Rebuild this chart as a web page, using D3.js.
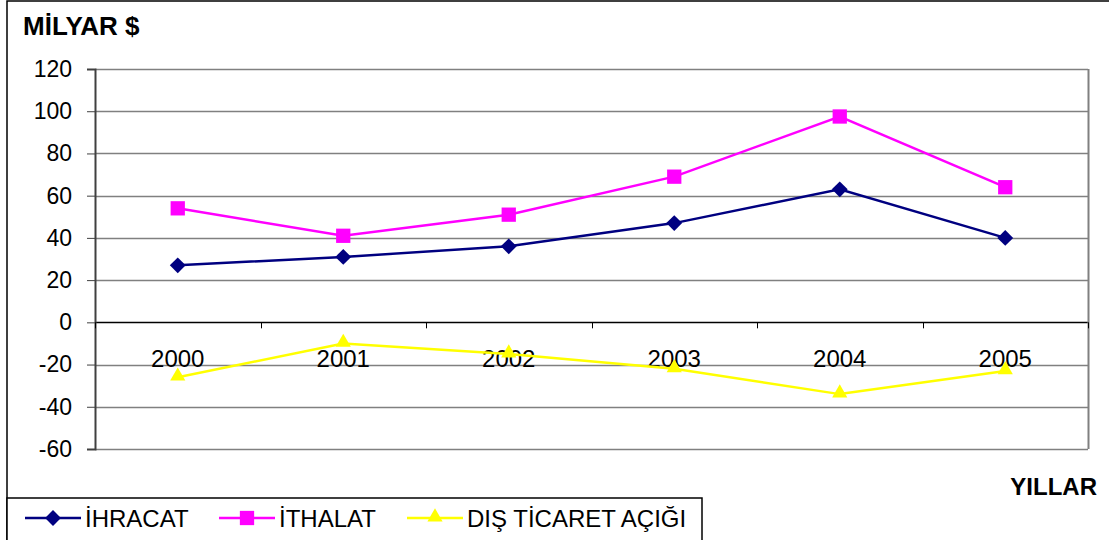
<!DOCTYPE html>
<html>
<head>
<meta charset="utf-8">
<script src="https://d3js.org/d3.v7.min.js"></script>
<style>
  body { margin: 0; background: #fff; }
  svg text { font-family: "Liberation Sans", Arial, sans-serif; }
</style>
</head>
<body>
<svg id="chart" width="1109" height="540"></svg>
<script>
// data
var years = ["2000", "2001", "2002", "2003", "2004", "2005"];
var ihracat = [27, 31, 36, 47, 63, 40];
var ithalat = [54, 41, 51, 69, 97.5, 64];
var acik = [-26, -10, -15, -22, -34, -23];
var yTicks = [120, 100, 80, 60, 40, 20, 0, -20, -40, -60];

(function() {
var series = [
  { name: "İHRACAT", values: ihracat, color: "#000080", shape: "diamond" },
  { name: "İTHALAT", values: ithalat, color: "#ff00ff", shape: "square" },
  { name: "DIŞ TİCARET AÇIĞI", values: acik, color: "#ffff00", shape: "triangle" }
];

var svg = d3.select("#chart");

// outer frame
svg.append("rect").attr("x", 7).attr("y", 1).attr("width", 1110).attr("height", 560)
  .attr("fill", "none").attr("stroke", "#000").attr("stroke-width", 1.5);

var pl = 95, pr = 1088, pt = 69, pb = 449;

var x = d3.scaleBand().domain(years).range([pl, pr]);
var y = d3.scaleLinear().domain([-60, 120]).range([pb, pt]);

// gridlines
svg.append("g").selectAll("line").data(yTicks).enter().append("line")
  .attr("x1", pl).attr("x2", pr)
  .attr("y1", function(d){ return Math.round(y(d)) + 0.5; })
  .attr("y2", function(d){ return Math.round(y(d)) + 0.5; })
  .attr("stroke", function(d){ return d === 0 ? "#000" : "#808080"; })
  .attr("stroke-width", 1.5);

// right border of plot area
svg.append("line").attr("x1", pr + 0.5).attr("x2", pr + 0.5).attr("y1", pt).attr("y2", pb)
  .attr("stroke", "#808080").attr("stroke-width", 2);

// y axis
var yAxis = d3.axisLeft(y).tickValues(yTicks).tickSize(8).tickPadding(15)
  .tickFormat(function(d){ return String(d); });
var gy = svg.append("g").attr("transform", "translate(" + pl + ",0)").call(yAxis);
gy.select(".domain").attr("stroke", "#404040").attr("stroke-width", 2);
gy.selectAll(".tick line").attr("stroke", "#404040");
gy.selectAll("text").style("font-size", "23px").attr("fill", "#000")
  .style("font-family", "'Liberation Sans', Arial, sans-serif");

// x axis at zero
var boundaries = years.map(function(d){ return x(d); }).concat([pr]);
svg.append("g").selectAll("line").data(boundaries).enter().append("line")
  .attr("x1", function(d){ return Math.round(d) + 0.5; })
  .attr("x2", function(d){ return Math.round(d) + 0.5; })
  .attr("y1", y(0)).attr("y2", y(0) + 6)
  .attr("stroke", "#000").attr("stroke-width", 1);

svg.append("g").selectAll("text").data(years).enter().append("text")
  .attr("x", function(d){ return x(d) + x.bandwidth() / 2; })
  .attr("y", 367)
  .attr("text-anchor", "middle")
  .style("font-size", "24px")
  .text(function(d){ return d; });

// axis titles
svg.append("text").attr("x", 23).attr("y", 35).style("font-size", "26px")
  .style("font-weight", "bold").text("MİLYAR $");
svg.append("text").attr("x", 1097).attr("y", 495).attr("text-anchor", "end").style("font-size", "24px")
  .style("font-weight", "bold").text("YILLAR");

function symbolFor(shape) {
  var t = shape === "diamond" ? d3.symbolDiamond2 : shape === "square" ? d3.symbolSquare2 : d3.symbolTriangle2;
  var size = shape === "diamond" ? 160 : shape === "square" ? 260 : 165;
  return d3.symbol().type(t).size(size);
}

var line = d3.line()
  .x(function(d, i){ return x(years[i]) + x.bandwidth() / 2; })
  .y(function(d){ return y(d); });

series.forEach(function(s) {
  var g = svg.append("g");
  g.append("path").datum(s.values).attr("d", line)
    .attr("fill", "none").attr("stroke", s.color).attr("stroke-width", 2.5);
  g.selectAll("path.m").data(s.values).enter().append("path").attr("class", "m")
    .attr("transform", function(d, i){
      var dy = s.shape === "triangle" ? -1 : 0;
      return "translate(" + (x(years[i]) + x.bandwidth() / 2) + "," + (y(d) + dy) + ")";
    })
    .attr("d", symbolFor(s.shape)())
    .attr("fill", s.color).attr("stroke", "none");
});

// legend
var lg = svg.append("g");
lg.append("rect").attr("x", 7).attr("y", 498).attr("width", 695).attr("height", 60)
  .attr("fill", "#fff").attr("stroke", "#000").attr("stroke-width", 1.5);
var legendX = [25, 219, 407];
series.forEach(function(s, i) {
  var lx = legendX[i];
  lg.append("line").attr("x1", lx).attr("x2", lx + 56).attr("y1", 518).attr("y2", 518)
    .attr("stroke", s.color).attr("stroke-width", 2.5);
  lg.append("path").attr("transform", "translate(" + (lx + 28) + "," + (s.shape === "triangle" ? 517 : 518) + ")")
    .attr("d", symbolFor(s.shape)()).attr("fill", s.color);
  lg.append("text").attr("x", lx + 60).attr("y", 527).style("font-size", "24px").text(s.name);
});
})();
</script>
</body>
</html>
